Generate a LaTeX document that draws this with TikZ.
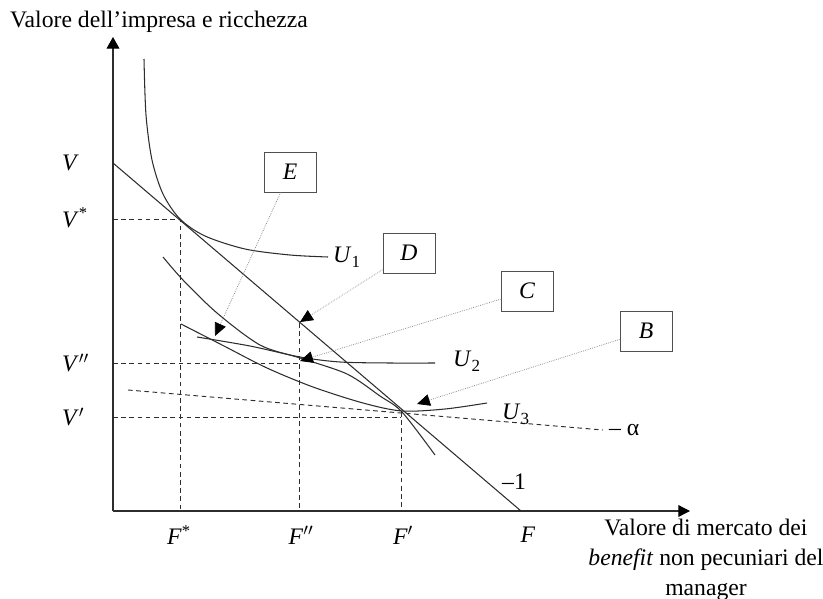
\documentclass[tikz,border=0pt]{standalone}
\usepackage{fontspec}
\setmainfont{Liberation Serif}
\usetikzlibrary{arrows.meta}
\definecolor{inkgray}{RGB}{45,45,45}
\definecolor{leadgray}{RGB}{125,125,125}
\definecolor{framegray}{RGB}{80,80,80}
\newcommand{\lowidx}[1]{\raisebox{-0.45ex}{\fontsize{14.5}{14.5}\selectfont #1}}

\begin{document}
\begin{tikzpicture}[x=0.03cm, y=-0.03cm,
    font=\fontsize{20.2}{24}\selectfont,
    curve/.style={inkgray, line width=0.9pt},
    guide/.style={inkgray, line width=0.8pt, dash pattern=on 4pt off 3pt},
    tag/.style={draw=framegray, line width=0.8pt, minimum width=1.56cm,
      minimum height=1.2cm, inner sep=0pt},
    pointer/.style={leadgray, densely dotted, line width=0.6pt,
      -{Triangle[length=11pt,width=10pt,color=black]}},
    lbl/.style={inner sep=0pt}]
  \useasboundingbox (0,0) rectangle (823,599);
  % Axes
  \coordinate (O)    at (113,511);
  \coordinate (ytop) at (113,37);
  \coordinate (xend) at (690,511);
  \draw[inkgray, line width=1.1pt, -{Triangle[length=10pt,width=11pt,color=black]}] (O) -- (ytop);
  \draw[inkgray, line width=1.1pt, -{Triangle[length=10pt,width=10pt,color=black]}] (O) -- (xend);
  \node[lbl, anchor=west] (ytitle) at (10,22) {Valore dell’impresa e ricchezza};
  \node[lbl, align=center, font=\fontsize{20.2}{25.5}\selectfont] (xtitle) at (706,560)
    {Valore di mercato dei\\ \textit{benefit} non pecuniari del\\ manager};
  % Budget line, slope -1
  \coordinate (Vbar) at (113,163);
  \coordinate (Fbar) at (521,511);
  \draw[curve] (Vbar) -- (Fbar);
  \node[lbl, anchor=west] (slope1) at (502,482) {–1};
  % Key points
  \coordinate (A)  at (180,219);
  \coordinate (Dp) at (299,323);
  \coordinate (Cp) at (299,363);
  \coordinate (Bp) at (401,417);
  % Guides to the axes
  \draw[guide] (113,219) -- (A) -- (180,511);
  \draw[guide] (113,363) -- (Cp);
  \draw[guide] (Dp) -- (299,511);
  \draw[guide] (113,417) -- (Bp);
  \draw[guide] (401,412) -- (401,511);
  % Line with slope -alpha
  \coordinate (aleft)  at (128,390);
  \coordinate (aright) at (603,430);
  \draw[guide] (aleft) -- (aright);
  \node[lbl, anchor=west] (alpha) at (609,430) {– α};
  % Indifference curves
  \draw[curve] plot[smooth] coordinates {(144,59) (146,115) (152,160) (163,194) (180,219)
    (205,236) (245,249) (290,255) (328,257)};
  \node[lbl, anchor=west] (U1) at (333,257) {\textit{U}\lowidx{1}};
  \draw[curve] plot[smooth] coordinates {(197,337) (250,346) (300,357) (340,362)
    (390,363) (435,363)};
  \node[lbl, anchor=west] (U2) at (453,361) {\textit{U}\lowidx{2}};
  \draw[curve] plot[smooth] coordinates {(181,324) (224,346) (267,368) (313,387)
    (363,403) (402,411) (445,409) (487,403)};
  \node[lbl, anchor=west] (U3) at (502,414) {\textit{U}\lowidx{3}};
  \draw[curve] plot[smooth] coordinates {(163,257) (183,280) (217,313) (260,345)
    (300,358) (347,374) (380,396) (402,412) (435,455)};
  % Axis labels
  \node[lbl, anchor=west] (Vlab)   at (62,163) {\textit{V}};
  \node[lbl, anchor=west] (Vstar)  at (62,218) {\textit{V}\textsuperscript{*}};
  \node[lbl, anchor=west] (Vsec)   at (62,363) {\textit{V}$''$};
  \node[lbl, anchor=west] (Vprime) at (62,417) {\textit{V}$'$};
  \node[lbl] (Fstar)  at (179,535) {\textit{F}\textsuperscript{*}};
  \node[lbl] (Fsec)   at (301,535) {\textit{F}$''$};
  \node[lbl] (Fprime) at (403,535) {\textit{F}$'$};
  \node[lbl] (Flab)   at (528,535) {\textit{F}};
  % Boxes and their pointers
  \node[tag] (Ebox) at (290,172) {\textit{E}};
  \node[tag] (Dbox) at (409,253) {\textit{D}};
  \node[tag] (Cbox) at (527,291) {\textit{C}};
  \node[tag] (Bbox) at (646,331) {\textit{B}};
  \coordinate (Etip) at (215,336);
  \coordinate (Dtip) at (300,322);
  \coordinate (Ctip) at (300,361);
  \coordinate (Btip) at (417,404);
  \draw[pointer] (Ebox) -- (Etip);
  \draw[pointer] (Dbox) -- (Dtip);
  \draw[pointer] (Cbox) -- (Ctip);
  \draw[pointer] (Bbox) -- (Btip);
\end{tikzpicture}
\end{document}
